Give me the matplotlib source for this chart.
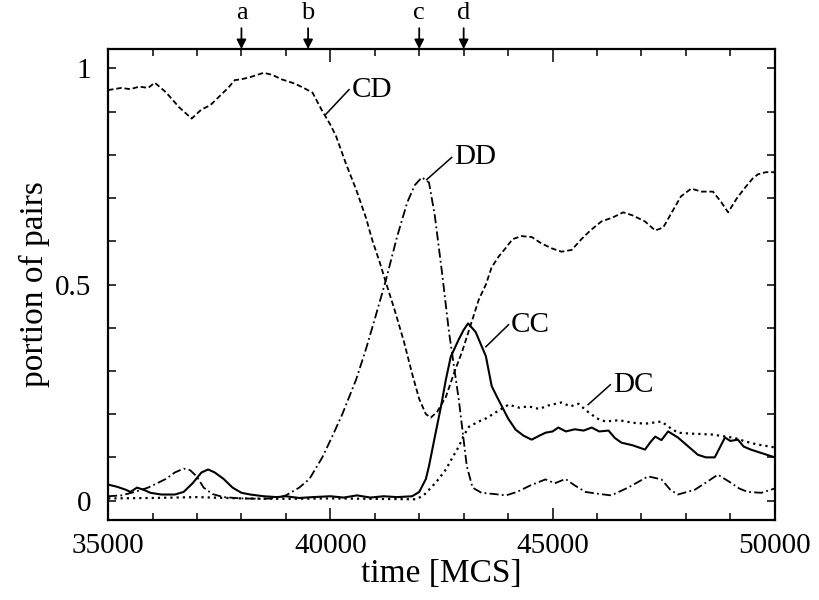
import matplotlib
matplotlib.use("Agg")
import matplotlib.pyplot as plt
from matplotlib.ticker import MultipleLocator

plt.rcParams['font.family'] = ['Liberation Serif', 'DejaVu Serif']

# series (time in MCS, portion of pairs)
t_cd = [35000, 35300, 35500, 35700, 35900, 36050, 36300, 36600, 36880, 37100, 37300, 37500,
        37700, 37850, 38000, 38200, 38500, 38700, 38900, 39200, 39400, 39600, 39800, 40000,
        40130, 40350, 40580, 40800, 40940, 41100, 41250, 41450, 41650, 41850, 42000, 42150,
        42260, 42400, 42600, 42800, 42960, 43200, 43340, 43500, 43630, 43790, 43950, 44100,
        44300, 44530, 44750, 45000, 45200, 45430, 45650, 45850, 46100, 46350, 46590, 46800,
        47080, 47310, 47490, 47700, 47890, 48120, 48350, 48610, 48800, 48950, 49150, 49330,
        49500, 49620, 49800, 50000]
cd = [0.950, 0.955, 0.952, 0.958, 0.955, 0.967, 0.945, 0.910, 0.884, 0.905, 0.915, 0.935,
      0.955, 0.973, 0.975, 0.980, 0.990, 0.985, 0.975, 0.965, 0.955, 0.944, 0.905, 0.870,
      0.843, 0.780, 0.720, 0.655, 0.604, 0.555, 0.505, 0.440, 0.370, 0.290, 0.235, 0.200,
      0.192, 0.205, 0.240, 0.300, 0.343, 0.420, 0.465, 0.500, 0.540, 0.565, 0.585, 0.605,
      0.612, 0.610, 0.595, 0.583, 0.576, 0.580, 0.605, 0.625, 0.646, 0.655, 0.667, 0.660,
      0.646, 0.625, 0.632, 0.670, 0.704, 0.722, 0.715, 0.715, 0.690, 0.667, 0.700, 0.724,
      0.745, 0.755, 0.760, 0.760]

t_dd = [35000, 35300, 35600, 35900, 36100, 36300, 36500, 36700, 36850, 37000, 37150, 37350,
        37600, 38000, 38500, 38800, 39000, 39300, 39530, 39820, 40050, 40270, 40580, 40800,
        41000, 41250, 41500, 41730, 41900, 42060, 42220, 42350, 42510, 42670, 42890, 43070,
        43200, 43400, 43700, 43950, 44200, 44500, 44840, 45050, 45290, 45500, 45740, 46000,
        46320, 46700, 47150, 47450, 47650, 47820, 48200, 48500, 48720, 49000, 49200, 49390,
        49700, 50000]
dd = [0.010, 0.012, 0.020, 0.030, 0.040, 0.050, 0.065, 0.074, 0.070, 0.055, 0.030, 0.015,
      0.008, 0.005, 0.004, 0.006, 0.012, 0.030, 0.050, 0.100, 0.150, 0.200, 0.280, 0.350,
      0.420, 0.510, 0.610, 0.690, 0.730, 0.748, 0.736, 0.660, 0.530, 0.390, 0.234, 0.080,
      0.030, 0.018, 0.015, 0.012, 0.020, 0.035, 0.049, 0.040, 0.050, 0.035, 0.020, 0.016,
      0.012, 0.030, 0.056, 0.049, 0.025, 0.014, 0.025, 0.045, 0.060, 0.042, 0.028, 0.020,
      0.018, 0.028]

t_cc = [35000, 35200, 35400, 35500, 35650, 35800, 35950, 36200, 36500, 36700, 36900, 37100,
        37250, 37400, 37600, 37800, 38000, 38200, 38500, 38800, 39000, 39300, 39600, 40000,
        40300, 40600, 40900, 41200, 41500, 41840, 42000, 42150, 42220, 42370, 42490, 42600,
        42710, 42890, 43000, 43100, 43270, 43500, 43630, 43750, 43860, 44000, 44170, 44350,
        44530, 44700, 44840, 45000, 45130, 45300, 45500, 45700, 45880, 46050, 46260, 46400,
        46550, 46800, 47080, 47200, 47310, 47450, 47600, 47820, 48000, 48270, 48450, 48650,
        48750, 48880, 49000, 49170, 49300, 49460, 49700, 50000]
cc = [0.037, 0.032, 0.025, 0.020, 0.030, 0.025, 0.018, 0.014, 0.014, 0.020, 0.040, 0.065,
      0.072, 0.065, 0.050, 0.030, 0.018, 0.014, 0.010, 0.008, 0.010, 0.006, 0.008, 0.010,
      0.007, 0.012, 0.007, 0.010, 0.008, 0.010, 0.020, 0.050, 0.080, 0.157, 0.218, 0.280,
      0.333, 0.373, 0.395, 0.410, 0.390, 0.334, 0.265, 0.240, 0.218, 0.190, 0.164, 0.150,
      0.141, 0.150, 0.157, 0.160, 0.169, 0.160, 0.165, 0.162, 0.169, 0.160, 0.162, 0.145,
      0.134, 0.128, 0.118, 0.135, 0.148, 0.140, 0.160, 0.146, 0.130, 0.106, 0.100, 0.100,
      0.120, 0.146, 0.138, 0.141, 0.125, 0.118, 0.110, 0.100]

t_dc = [35000, 36000, 37000, 38000, 39000, 40000, 41000, 41930, 42100, 42220, 42400, 42600,
        42750, 42890, 43000, 43120, 43340, 43500, 43720, 44010, 44250, 44460, 44700, 44900,
        45200, 45400, 45580, 45800, 46000, 46190, 46500, 46800, 47100, 47450, 47650, 47820,
        48100, 48570, 48900, 49100, 49330, 49600, 50000]
dc = [0.005, 0.006, 0.008, 0.005, 0.004, 0.005, 0.004, 0.003, 0.012, 0.025, 0.045, 0.072,
      0.100, 0.125, 0.150, 0.171, 0.183, 0.190, 0.204, 0.222, 0.215, 0.218, 0.212, 0.220,
      0.227, 0.218, 0.224, 0.205, 0.190, 0.183, 0.186, 0.180, 0.178, 0.183, 0.168, 0.157,
      0.155, 0.153, 0.148, 0.145, 0.137, 0.130, 0.123]

# curve labels with their leader lines
labels = ["CD", "DD", "CC", "DC"]
lead_from = [(39900, 0.894), (42170, 0.743), (43500, 0.356), (45800, 0.222)]
lead_to = [(40420, 0.951), (42730, 0.794), (44010, 0.407), (46300, 0.268)]

# event markers on top
events = ["a", "b", "c", "d"]
event_t = [38000, 39500, 42000, 43000]

fig = plt.figure(figsize=(8.19, 6.0), dpi=100)
ax = fig.add_axes([0.132, 0.1333, 0.814, 0.785])

lw = 1.3
ax.plot(t_cd, cd, color="black", lw=lw, linestyle=(0, (3, 1.6)))
ax.plot(t_dd, dd, color="black", lw=lw, linestyle=(0, (5, 1.8, 1, 1.8)))
ax.plot(t_cc, cc, color="black", lw=1.5, linestyle="-")
ax.plot(t_dc, dc, color="black", lw=1.6, linestyle=(0, (1, 1.8)))

for lab, p0, p1 in zip(labels, lead_from, lead_to):
    ax.plot([p0[0], p1[0]], [p0[1], p1[1]], color="black", lw=1.1)
    ax.text(p1[0] + 60, p1[1], lab, fontsize=21, ha="left", va="center")

for ev, te in zip(events, event_t):
    ax.annotate("", xy=(te, 1.0), xycoords=("data", "axes fraction"),
                xytext=(0, 15), textcoords="offset points",
                arrowprops=dict(arrowstyle="-|>,head_length=0.55,head_width=0.28",
                                color="black", lw=1.3, shrinkA=0, shrinkB=0),
                annotation_clip=False)
    ax.annotate(ev, xy=(te, 1.0), xycoords=("data", "axes fraction"),
                xytext=(0, 26), textcoords="offset points",
                ha="center", va="center", fontsize=19, annotation_clip=False)

ax.set_xlim(35000, 50000)
ax.set_ylim(-0.045, 1.045)
ax.xaxis.set_major_locator(MultipleLocator(5000))
ax.xaxis.set_minor_locator(MultipleLocator(1000))
ax.yaxis.set_major_locator(MultipleLocator(0.5))
ax.yaxis.set_minor_locator(MultipleLocator(0.1))
ax.yaxis.set_major_formatter(plt.FuncFormatter(lambda v, p: "%g" % v))

ax.tick_params(which="both", direction="in", top=True, right=True, width=1.1,
               labelsize=21)
ax.tick_params(axis="x", which="major", length=9, pad=9)
ax.tick_params(axis="x", which="minor", length=5)
ax.tick_params(axis="y", which="both", length=6, pad=12)

for s in ax.spines.values():
    s.set_linewidth(1.6)

ax.set_xlabel("time [MCS]", fontsize=24, labelpad=0)
ax.set_ylabel("portion of pairs", fontsize=24, labelpad=4)

fig.savefig("out.png", dpi=100)
